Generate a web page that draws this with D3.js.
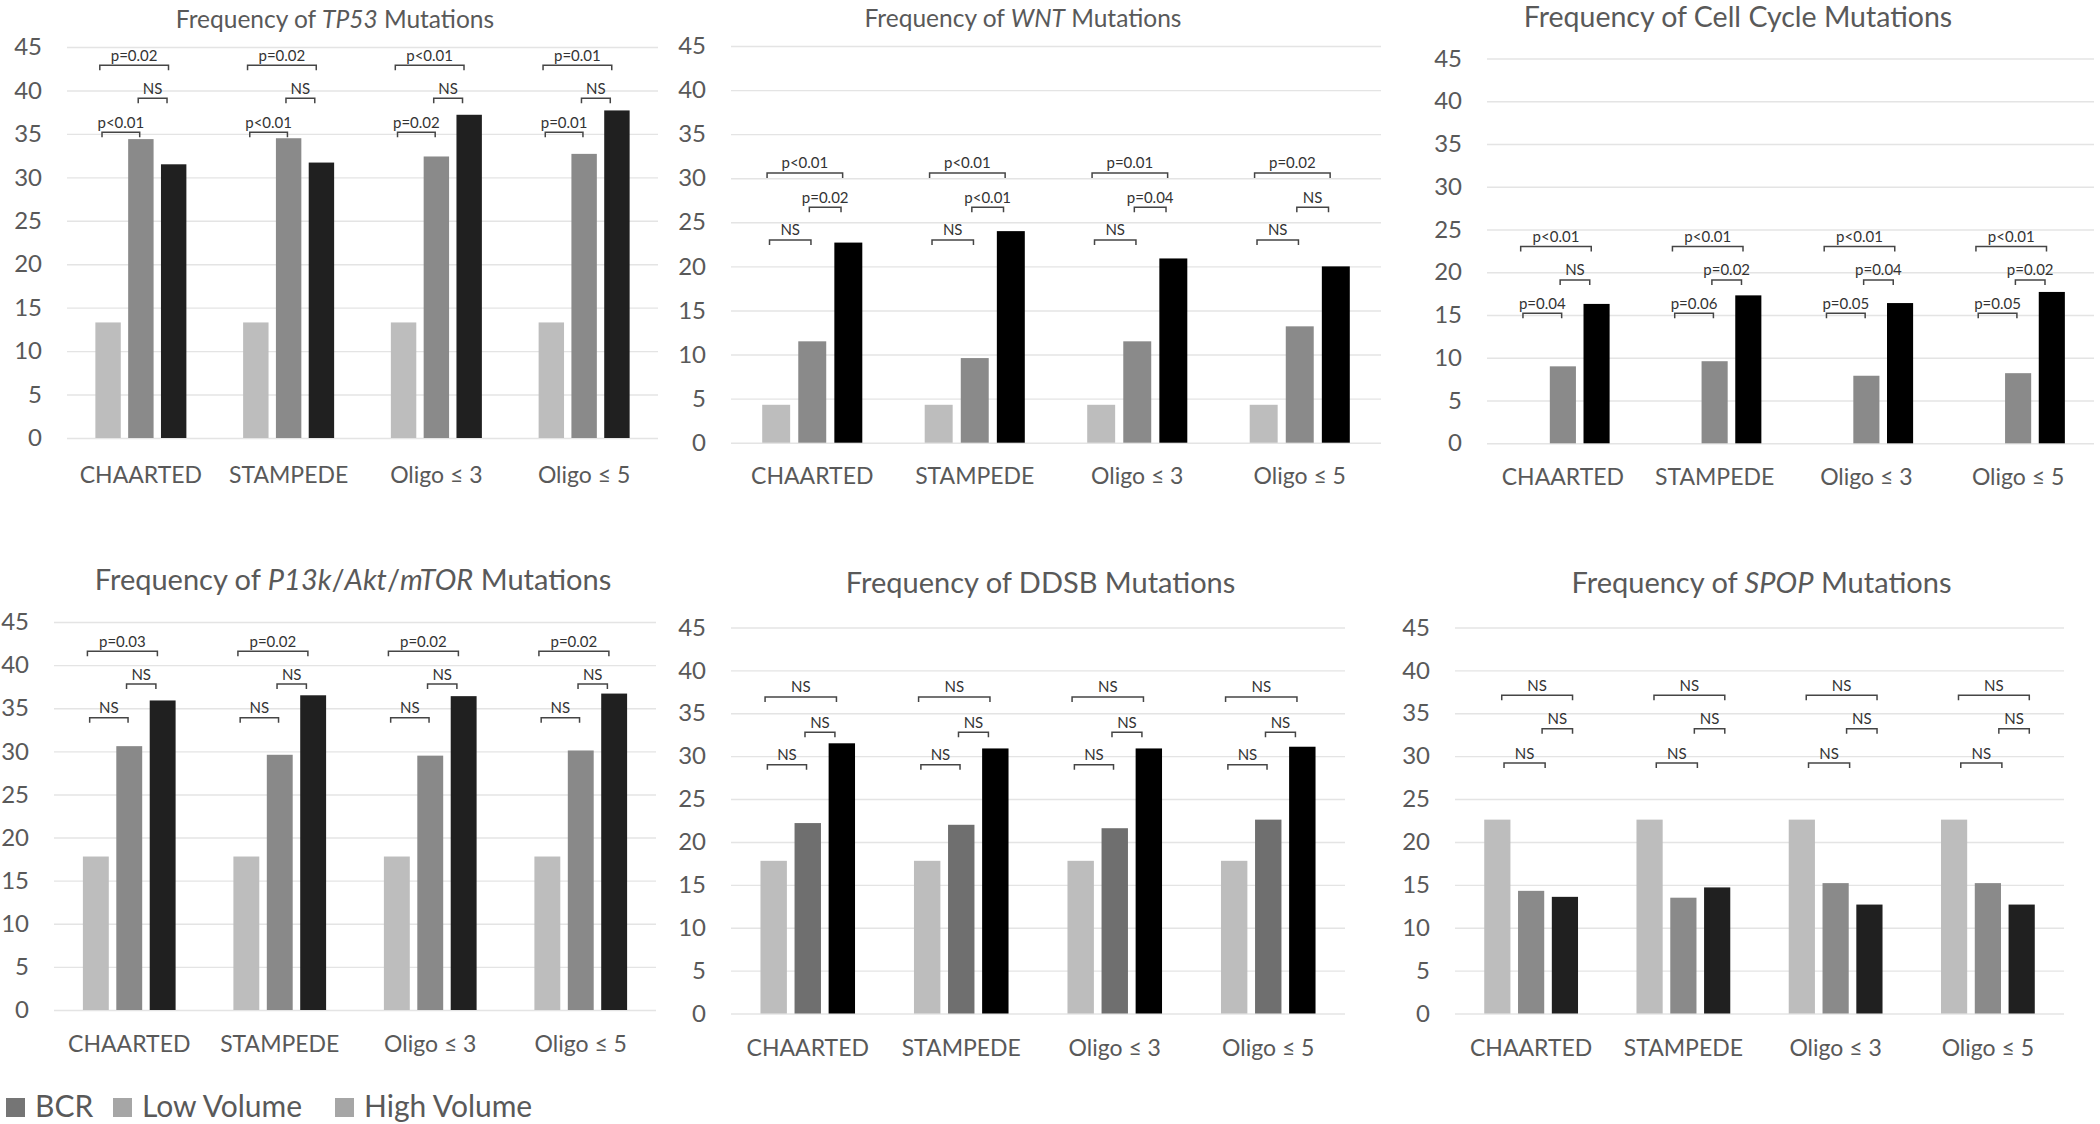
<!DOCTYPE html>
<html><head><meta charset="utf-8">
<script src="https://cdn.jsdelivr.net/npm/d3@7"></script>
<style>
body{margin:0;background:#fff}
svg{display:block}
text{font-family:Lato,"Open Sans","DejaVu Sans",sans-serif}
</style>
</head><body>
<svg id="chart" width="2100" height="1124"></svg>
<script>
// ---------------- DATA ----------------
const categories = ["CHAARTED", "STAMPEDE", "Oligo \u2264 3", "Oligo \u2264 5"];
const seriesNames = ["BCR", "Low Volume", "High Volume"];
const yTicks = [0, 5, 10, 15, 20, 25, 30, 35, 40, 45];

const tp53BCR  = [13.3, 13.3, 13.3, 13.3];
const tp53Low  = [34.4, 34.5, 32.4, 32.7];
const tp53High = [31.5, 31.7, 37.2, 37.7];

const wntBCR  = [4.3, 4.3, 4.3, 4.3];
const wntLow  = [11.5, 9.6, 11.5, 13.2];
const wntHigh = [22.7, 24.0, 20.9, 20.0];

const cellBCR  = [0, 0, 0, 0];
const cellLow  = [9.0, 9.6, 7.9, 8.2];
const cellHigh = [16.3, 17.3, 16.4, 17.7];

const pi3kBCR  = [17.8, 17.8, 17.8, 17.8];
const pi3kLow  = [30.6, 29.6, 29.5, 30.1];
const pi3kHigh = [35.9, 36.5, 36.4, 36.7];

const ddsbBCR  = [17.8, 17.8, 17.8, 17.8];
const ddsbLow  = [22.2, 22.0, 21.6, 22.6];
const ddsbHigh = [31.5, 30.9, 30.9, 31.1];

const spopBCR  = [22.6, 22.6, 22.6, 22.6];
const spopLow  = [14.3, 13.5, 15.2, 15.2];
const spopHigh = [13.6, 14.7, 12.7, 12.7];

// p-value labels: BCR vs Low, Low vs High, BCR vs High
const tp53PBcrLow  = ["p<0.01", "p<0.01", "p=0.02", "p=0.01"];
const tp53PLowHigh = ["NS", "NS", "NS", "NS"];
const tp53PBcrHigh = ["p=0.02", "p=0.02", "p<0.01", "p=0.01"];

const wntPBcrLow  = ["NS", "NS", "NS", "NS"];
const wntPLowHigh = ["p=0.02", "p<0.01", "p=0.04", "NS"];
const wntPBcrHigh = ["p<0.01", "p<0.01", "p=0.01", "p=0.02"];

const cellPBcrLow  = ["p=0.04", "p=0.06", "p=0.05", "p=0.05"];
const cellPLowHigh = ["NS", "p=0.02", "p=0.04", "p=0.02"];
const cellPBcrHigh = ["p<0.01", "p<0.01", "p<0.01", "p<0.01"];

const pi3kPBcrLow  = ["NS", "NS", "NS", "NS"];
const pi3kPLowHigh = ["NS", "NS", "NS", "NS"];
const pi3kPBcrHigh = ["p=0.03", "p=0.02", "p=0.02", "p=0.02"];

const ddsbPBcrLow  = ["NS", "NS", "NS", "NS"];
const ddsbPLowHigh = ["NS", "NS", "NS", "NS"];
const ddsbPBcrHigh = ["NS", "NS", "NS", "NS"];

const spopPBcrLow  = ["NS", "NS", "NS", "NS"];
const spopPLowHigh = ["NS", "NS", "NS", "NS"];
const spopPBcrHigh = ["NS", "NS", "NS", "NS"];

// bracket heights (value units): [BCR-Low, Low-High, BCR-High]
const tp53Levels = [35.2, 39.1, 42.9];
const wntLevels  = [23.0, 26.7, 30.6];
const cellLevels = [15.2, 19.1, 23.0];
const pi3kLevels = [33.9, 37.8, 41.6];
const ddsbLevels = [29.0, 32.8, 36.9];
const spopLevels = [29.2, 33.2, 37.1];

const tp53Title = [["Frequency of ", false], ["TP53", true], [" Mutations", false]];
const wntTitle  = [["Frequency of ", false], ["WNT", true], [" Mutations", false]];
const cellTitle = [["Frequency of Cell Cycle Mutations", false]];
const pi3kTitle = [["Frequency of ", false], ["P13k", true], ["/", false], ["Akt", true], ["/", false], ["mTOR", true], [" Mutations", false]];
const ddsbTitle = [["Frequency of DDSB Mutations", false]];
const spopTitle = [["Frequency of ", false], ["SPOP", true], [" Mutations", false]];

const panels = [
  {title: tp53Title, s: [tp53BCR, tp53Low, tp53High], p: [tp53PBcrLow, tp53PLowHigh, tp53PBcrHigh], lv: tp53Levels},
  {title: wntTitle,  s: [wntBCR, wntLow, wntHigh],    p: [wntPBcrLow, wntPLowHigh, wntPBcrHigh],    lv: wntLevels},
  {title: cellTitle, s: [cellBCR, cellLow, cellHigh], p: [cellPBcrLow, cellPLowHigh, cellPBcrHigh], lv: cellLevels},
  {title: pi3kTitle, s: [pi3kBCR, pi3kLow, pi3kHigh], p: [pi3kPBcrLow, pi3kPLowHigh, pi3kPBcrHigh], lv: pi3kLevels},
  {title: ddsbTitle, s: [ddsbBCR, ddsbLow, ddsbHigh], p: [ddsbPBcrLow, ddsbPLowHigh, ddsbPBcrHigh], lv: ddsbLevels},
  {title: spopTitle, s: [spopBCR, spopLow, spopHigh], p: [spopPBcrLow, spopPLowHigh, spopPBcrHigh], lv: spopLevels}
];

// ---------------- LAYOUT / STYLE ----------------
const brStd  = [[0.045, 0.30], [0.29, 0.485], [0.03, 0.495]];
const brSpop = [[0.13, 0.40], [0.38, 0.58], [0.115, 0.58]];
const layout = [
  {gx0: 67,   gx1: 658,  gy45: 47,    gy0: 438,    tx: 335,    ty: 28,  ts: 24.5, xpad: 29, br: brStd,  col: ["#bdbdbd", "#8a8a8a", "#202020"]},
  {gx0: 731,  gx1: 1381, gy45: 46,    gy0: 442.7,  tx: 1023,   ty: 27,  ts: 24.5, xpad: 25, br: brStd,  col: ["#bdbdbd", "#8a8a8a", "#000000"]},
  {gx0: 1487, gx1: 2094, gy45: 58.5,  gy0: 443.3,  tx: 1738,   ty: 27,  ts: 28.5, xpad: 25, br: brStd,  col: ["#bdbdbd", "#8a8a8a", "#000000"]},
  {gx0: 54,   gx1: 656,  gy45: 622,   gy0: 1010,   tx: 353,    ty: 590, ts: 29,   xpad: 26, br: brStd,  col: ["#bdbdbd", "#898989", "#202020"]},
  {gx0: 731,  gx1: 1345, gy45: 627.5, gy0: 1013.5, tx: 1040.6, ty: 593, ts: 29,   xpad: 26, br: brStd,  col: ["#bdbdbd", "#6f6f6f", "#000000"]},
  {gx0: 1455, gx1: 2064, gy45: 627.5, gy0: 1013.5, tx: 1761.5, ty: 593, ts: 29,   xpad: 26, br: brSpop, col: ["#bdbdbd", "#8a8a8a", "#202020"]}
];
const textCol = "#595959";
const legendCols = ["#757575", "#a6a6a6", "#a6a6a6"];

// ---------------- DRAW ----------------
const svg = d3.select("#chart");

panels.forEach((P, i) => {
  const L = layout[i];
  const g = svg.append("g");
  const y = d3.scaleLinear().domain([0, 45]).range([L.gy0, L.gy45]);
  const x0 = d3.scaleBand().domain(categories).range([L.gx0, L.gx1]).paddingInner(0).paddingOuter(0);
  const band = x0.bandwidth();
  const groupW = band * 0.616;
  const x1 = d3.scaleBand().domain(seriesNames).range([0, groupW]).paddingInner(0.225).paddingOuter(0);

  // gridlines
  const grid = g.append("g").attr("transform", `translate(${L.gx0},0)`)
    .call(d3.axisLeft(y).tickValues(yTicks).tickSize(-(L.gx1 - L.gx0)).tickFormat(""));
  grid.select(".domain").remove();
  grid.selectAll("line").attr("stroke", "#e4e4e4").attr("stroke-width", 1.4);

  // y axis labels
  const ya = g.append("g").attr("transform", `translate(${L.gx0},0)`)
    .call(d3.axisLeft(y).tickValues(yTicks).tickSize(0).tickPadding(25));
  ya.select(".domain").remove();
  ya.selectAll("text").attr("font-size", 24).attr("fill", textCol)
    .style("font-family", "Lato, 'Open Sans', sans-serif");

  // x axis labels
  const xa = g.append("g").attr("transform", `translate(0,${L.gy0})`)
    .call(d3.axisBottom(x0).tickSize(0).tickPadding(L.xpad));
  xa.select(".domain").remove();
  xa.selectAll("text").attr("font-size", 23).attr("fill", textCol)
    .style("font-family", "Lato, 'Open Sans', sans-serif");

  // bars
  const rows = [];
  categories.forEach((c, ci) => {
    seriesNames.forEach((sn, si) => rows.push({c, ci, sn, si, v: P.s[si][ci]}));
  });
  g.append("g").selectAll("rect").data(rows).join("rect")
    .attr("x", d => x0(d.c) + band / 2 - groupW / 2 + x1(d.sn))
    .attr("width", x1.bandwidth())
    .attr("y", d => y(d.v))
    .attr("height", d => y(0) - y(d.v))
    .attr("fill", d => L.col[d.si]);

  // significance brackets
  const bg = g.append("g");
  categories.forEach((c, ci) => {
    const gl = x0(c) + band / 2 - groupW / 2;
    for (let k = 0; k < 3; k++) {
      const xa1 = gl + L.br[k][0] * band;
      const xa2 = gl + L.br[k][1] * band;
      const yy = y(P.lv[k]);
      bg.append("path")
        .attr("d", `M${xa1},${yy + 5}V${yy}H${xa2}V${yy + 5}`)
        .attr("fill", "none").attr("stroke", "#454545").attr("stroke-width", 1.5);
      bg.append("text")
        .attr("x", (xa1 + xa2) / 2).attr("y", yy - 4.5)
        .attr("text-anchor", "middle").attr("font-size", 15).attr("fill", "#333")
        .text(P.p[k][ci]);
    }
  });

  // title
  const t = g.append("text").attr("x", L.tx).attr("y", L.ty).attr("text-anchor", "middle")
    .attr("font-size", L.ts).attr("fill", textCol);
  P.title.forEach(([s, it]) => t.append("tspan").attr("font-style", it ? "italic" : "normal").text(s));
});

// legend
const lg = svg.append("g");
const legX = [6, 113, 335];
seriesNames.forEach((s, i) => {
  lg.append("rect").attr("x", legX[i]).attr("y", 1098).attr("width", 19).attr("height", 19).attr("fill", legendCols[i]);
  lg.append("text").attr("x", legX[i] + 29).attr("y", 1117).attr("font-size", 30).attr("fill", textCol).text(s);
});
</script>
</body></html>
